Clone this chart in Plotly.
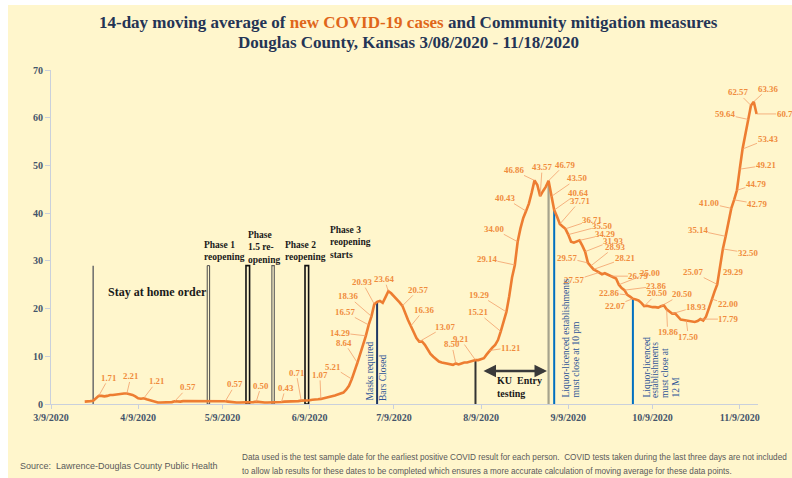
import pandas as pd
import plotly.graph_objects as go

# ---------------- DATA ----------------
start_date = "2020-03-21"
cases_avg = [
    0.5, 0.5, 0.6, 0.7, 1.3,
    1.71, 1.7, 1.6, 1.7, 1.9, 1.9, 2.0, 2.0, 2.1, 2.2,
    2.21, 2.1, 1.9, 1.6, 1.2, 1.1, 1.21, 1.0, 0.8, 0.6,
    0.4, 0.3, 0.3, 0.3, 0.3, 0.3, 0.4, 0.57, 0.5, 0.5,
    0.6, 0.6, 0.6, 0.6, 0.7, 0.7, 0.7, 0.7, 0.7, 0.7,
    0.6, 0.6, 0.6, 0.6, 0.6, 0.57, 0.5, 0.4, 0.3, 0.3,
    0.3, 0.3, 0.4, 0.4, 0.4, 0.4, 0.50, 0.4, 0.3, 0.3,
    0.3, 0.3, 0.4, 0.4, 0.4, 0.43, 0.5, 0.5, 0.5, 0.6,
    0.6, 0.6, 0.71, 0.7, 0.8, 0.8, 0.9, 0.9, 1.0, 1.07,
    1.2, 1.3, 1.4, 1.6, 1.8, 2.0, 2.2, 2.4, 3.0, 3.8,
    5.21, 6.8, 8.64, 10.5, 12.2, 14.29, 16.57, 18.36, 20.93, 21.4,
    21.6, 21.2, 22.4, 23.64, 23.2, 22.6, 22.0, 21.3, 20.57, 19.0,
    17.6, 16.36, 15.0, 13.8, 13.07, 13.1, 12.4, 11.4, 10.5, 9.9,
    9.4, 8.9, 8.7, 8.6, 8.5, 8.4, 8.2, 8.50, 8.3, 8.5,
    8.7, 8.7, 8.9, 9.0, 9.21, 9.2, 9.4, 9.6, 10.4, 11.21,
    11.8, 12.4, 13.4, 15.21, 17.2, 19.29, 22.6, 26.5, 29.14, 34.00,
    36.8, 39.0, 40.43, 42.0, 44.3, 46.86, 45.9, 43.57, 44.6, 45.5,
    46.79, 43.50, 40.64, 39.3, 37.71, 37.2, 36.71, 35.50, 34.0, 33.8,
    34.1, 34.29, 33.2, 31.93, 29.57, 28.93, 28.21, 27.9, 27.57, 27.2,
    27.4, 27.1, 26.79, 26.6, 26.3, 25.00, 24.3, 23.86, 22.86, 22.5,
    22.07, 21.9, 21.7, 21.2, 20.50, 20.6, 20.4, 20.3, 20.3, 20.2,
    20.50, 20.7, 19.86, 19.4, 18.93, 19.0, 18.3, 17.7, 17.6, 17.50,
    17.4, 17.3, 17.2, 17.4, 17.79, 17.5, 18.3, 20.0, 22.00, 23.5,
    25.07, 29.29, 32.50, 35.14, 38.0, 41.00, 42.79, 44.79, 49.21, 53.43,
    56.5, 59.64, 62.57, 63.36, 60.79,
]

x_range = ["2020-03-09", "2020-11-15 12:00"]
x_tick_vals = ["2020-03-09", "2020-04-09", "2020-05-09", "2020-06-09", "2020-07-09",
               "2020-08-09", "2020-09-09", "2020-10-09", "2020-11-09"]
x_tick_text = ["3/9/2020", "4/9/2020", "5/9/2020", "6/9/2020", "7/9/2020",
               "8/9/2020", "9/9/2020", "10/9/2020", "11/9/2020"]
y_tick_vals = [0, 10, 20, 30, 40, 50, 60, 70]

label_dates = [
    "2020-03-26", "2020-04-05", "2020-04-11", "2020-04-22", "2020-05-10", "2020-05-21",
    "2020-05-30", "2020-06-06", "2020-06-13", "2020-06-24", "2020-06-26", "2020-06-29",
    "2020-06-30", "2020-07-01", "2020-07-02", "2020-07-07", "2020-07-12", "2020-07-15",
    "2020-07-18", "2020-07-31", "2020-08-07", "2020-08-12", "2020-08-16", "2020-08-18",
    "2020-08-21", "2020-08-22", "2020-08-25", "2020-08-28", "2020-08-30", "2020-09-02",
    "2020-09-03", "2020-09-04", "2020-09-06", "2020-09-08", "2020-09-09", "2020-09-13",
    "2020-09-15", "2020-09-16", "2020-09-17", "2020-09-18", "2020-09-20", "2020-09-24",
    "2020-09-27", "2020-09-29", "2020-09-30", "2020-10-02", "2020-10-06", "2020-10-12",
    "2020-10-14", "2020-10-16", "2020-10-21", "2020-10-26", "2020-10-30", "2020-11-01",
    "2020-11-02", "2020-11-03", "2020-11-04", "2020-11-06", "2020-11-07", "2020-11-08",
    "2020-11-09", "2020-11-10", "2020-11-12", "2020-11-13", "2020-11-14", "2020-11-15",
]

# mitigation-measure events
stay_home_date = "2020-03-24"
phase_dates = ["2020-05-04", "2020-05-18", "2020-05-27", "2020-06-08"]
phase_line_top = 29
measure_dates = ["2020-07-03", "2020-08-07", "2020-09-02", "2020-09-04", "2020-10-02"]

# ---------------- STYLE ----------------
BG = "#FFF6CC"
ORANGE = "#ED7D31"
LABEL_ORANGE = "#F08C3C"
NAVY = "#243455"
BLUE_TXT = "#2F5597"
AXIS = "#C9D0DC"
PL, PR, PT, PB = 51, 758, 70, 404
W, H = 792, 478
FOOT_FONT = "Liberation Sans"

def px(x):
    return (x - PL) / (PR - PL)

def py(y):
    return (PB - y) / (PB - PT)

dates = pd.date_range(start_date, periods=len(cases_avg), freq="D")
value_at = dict(zip(dates.strftime("%Y-%m-%d"), cases_avg))

fig = go.Figure()
fig.add_trace(go.Scatter(x=dates, y=cases_avg, mode="lines",
                         line=dict(color=ORANGE, width=2.6), hoverinfo="skip",
                         showlegend=False))

shapes = [
    dict(type="rect", xref="paper", yref="paper", x0=px(8), x1=px(W + 5), y0=py(H + 5), y1=py(5),
         fillcolor=BG, line=dict(width=0), layer="below"),
    dict(type="line", xref="x", yref="y", x0=stay_home_date, x1=stay_home_date, y0=0,
         y1=phase_line_top, line=dict(color="#6b6b6b", width=1.5), layer="below"),
]
phase_styles = [("#4a4a4a", 1.0, 1.2), ("#111111", 1.6, 1.8), ("#5a5a5a", 1.1, 1.2), ("#111111", 1.6, 1.8)]
for d, (c, w, half) in zip(phase_dates, phase_styles):
    shapes.append(dict(type="rect", xref="x", yref="y", xsizemode="pixel", xanchor=d,
                       x0=-half, x1=half, y0=0, y1=phase_line_top,
                       line=dict(color=c, width=w), fillcolor=BG, layer="below"))
measure_styles = [("#1F3864", 2.0), ("#333333", 2.0), ("#A6A38C", 2.2), ("#0070C0", 2.0), ("#0070C0", 2.0)]
for d, (c, w) in zip(measure_dates, measure_styles):
    shapes.append(dict(type="line", xref="x", yref="y", x0=d, x1=d, y0=0, y1=value_at[d],
                       line=dict(color=c, width=w), layer="below"))

annotations = []

# data labels (offsets are label placement)
label_offsets = [
    (10, -18), (4, -17), (13, -17), (13, -14), (10, -17), (5, -16),
    (4, -14), (-5, -28), (-1, -24), (-19, -12), (-13, -20), (-26, -3),
    (-24, -13), (-23, -20), (-12, -22), (-4, -12), (16, -16), (13, -16),
    (26, -15), (-4, -19), (-15, -21), (21, -3), (-23, -19), (-27, -17),
    (-28, -6), (-24, -13), (-21, -13), (-21, -10), (2, -29), (16, -16),
    (26, -18), (24, -17), (20, -23), (27, -9), (34, -9), (26, -6),
    (28, -11), (-21, -5), (24, -19), (31, -11), (-25, 8), (28, 0),
    (31, -12), (32, -4), (-18, -2), (-18, 7), (13, -13), (21, -12),
    (1, 23), (24, -7), (2, 16), (28, 0), (16, 5), (-24, -12),
    (13, 8), (25, 4), (-28, -6), (-22, -5), (23, 4), (19, -6),
    (26, -4), (25, -10), (-23, -5), (-13, -13), (14, -13), (30, 0),
]
for d, (ax, ay) in zip(label_dates, label_offsets):
    v = value_at[d]
    annotations.append(dict(x=d, y=v, xref="x", yref="y", text=f"{v:.2f}",
                            showarrow=True, arrowhead=0, arrowwidth=0.8,
                            arrowcolor="#F3A06A", ax=ax, ay=ay, standoff=0,
                            borderpad=0,
                            font=dict(family="Liberation Serif", size=8.8,
                                      color=LABEL_ORANGE, weight="bold")))

def txt(x, y, text, size=9.5, color="#1a1a1a", bold=True, xanchor="left",
        yanchor="middle", angle=0, family="Liberation Serif", align="left"):
    annotations.append(dict(x=px(x), y=py(y), xref="paper", yref="paper", text=text,
                            showarrow=False, xanchor=xanchor, yanchor=yanchor,
                            textangle=angle, align=align,
                            font=dict(family=family, size=size, color=color,
                                      weight="bold" if bold else "normal")))

# title
txt(408, 23, '14-day moving average of <span style="color:#E0661A">new COVID-19 cases</span> '
    'and Community mitigation measures', size=17, color=NAVY, xanchor="center")
txt(408, 43, "Douglas County, Kansas 3/08/2020 - 11/18/2020", size=17, color=NAVY, xanchor="center")

# event texts
txt(157, 292, "Stay at home order", size=12, xanchor="center")
txt(202, 251, "Phase 1<br>reopening")
txt(246, 247, "Phase<br>1.5 re-<br>opening")
txt(283, 250.5, "Phase 2<br>reopening")
txt(328, 242, "Phase 3<br>reopening<br>starts")
txt(495, 386.5, "KU  Entry<br>testing", size=10)

# vertical blue texts
for x, y, t in [(369, 403, "Masks required"), (383, 403, "Bars Closed"),
                (565, 400, "Liquor-licenced establishments"), (575, 400, "must close at 10 pm"),
                (646, 400, "Liquor-licenced"), (655, 400, "establishments"),
                (665, 400, "must close at"), (675, 400, "12 M")]:
    txt(x, y, t, size=9.5, color=BLUE_TXT, bold=False, xanchor="center", yanchor="bottom", angle=-90)

# KU arrow (double-headed)
annotations.append(dict(x=px(547), y=py(371), xref="paper", yref="paper", ax=-65, ay=0,
                        text="", showarrow=True, arrowhead=2, arrowside="end+start",
                        arrowsize=1, arrowwidth=2.5, arrowcolor="#3a3a3a", standoff=0,
                        startstandoff=0))

# footer
txt(18, 466, "Source:  Lawrence-Douglas County Public Health", size=9, color="#595959",
    bold=False, family=FOOT_FONT)
txt(240, 457, "Data used is the test sample date for the earliest positive COVID result for each person.  "
    "COVID tests taken during the last three days are not included", size=8.2, color="#595959",
    bold=False, family=FOOT_FONT)
txt(240, 471, "to allow lab results for these dates to be completed which ensures a more accurate "
    "calculation of moving average for these data points.", size=8.2, color="#595959",
    bold=False, family=FOOT_FONT)

fig.update_layout(
    width=W, height=H,
    margin=dict(l=PL, r=W - PR, t=PT, b=H - PB, pad=0),
    paper_bgcolor="white", plot_bgcolor="rgba(0,0,0,0)",
    shapes=shapes, annotations=annotations, showlegend=False,
    xaxis=dict(type="date", range=x_range, tickvals=x_tick_vals, ticktext=x_tick_text,
               showgrid=False, zeroline=False, showline=True, linecolor=AXIS, linewidth=1,
               ticks="outside", ticklen=4, tickcolor=AXIS,
               tickfont=dict(family="Liberation Serif", size=10, color="#44546A", weight="bold")),
    yaxis=dict(range=[0, 70], tickvals=y_tick_vals, showgrid=False, zeroline=False,
               showline=True, linecolor=AXIS, linewidth=1, ticks="outside", ticklen=5,
               tickcolor=AXIS,
               tickfont=dict(family="Liberation Serif", size=10, color="#44546A", weight="bold")),
)

fig.write_html("out.html", config={"displayModeBar": False},
               post_script="document.body.style.margin='0';document.body.style.overflow='hidden';")
